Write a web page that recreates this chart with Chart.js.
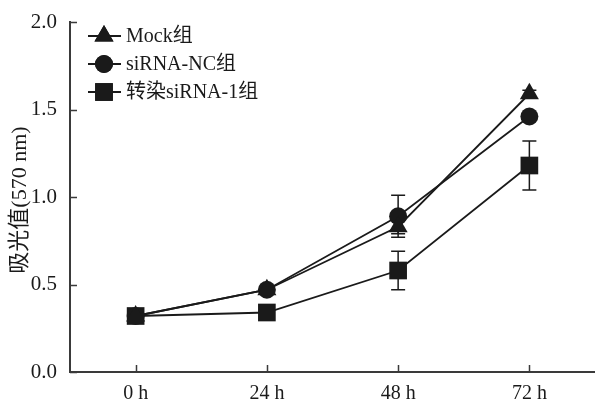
<!DOCTYPE html>
<html>
<head>
<meta charset="utf-8">
<script src="https://cdn.jsdelivr.net/npm/chart.js@4/dist/chart.umd.min.js"></script>
<style>
  html, body { margin: 0; padding: 0; background: #fff; }
  #wrap { width: 595px; height: 401px; position: relative; }
</style>
</head>
<body>
<div id="wrap"><canvas id="chart"></canvas></div>
<script>
// Data
const timeLabels = ['0 h', '24 h', '48 h', '72 h'];
const mockValues = [0.32, 0.47, 0.83, 1.59];
const mockErr = [0.01, 0.01, 0.04, 0.02];
const ncValues = [0.32, 0.47, 0.89, 1.46];
const ncErr = [0.01, 0.01, 0.12, 0.02];
const si1Values = [0.32, 0.34, 0.58, 1.18];
const si1Err = [0.02, 0.01, 0.11, 0.14];
const seriesNames = ['Mock组', 'siRNA-NC组', '转染siRNA-1组'];
const yTicks = [0, 0.5, 1.0, 1.5, 2.0];

const INK = '#1a1a1a';
const AXIS = '#3a3a3a';
const SERIF = '"Liberation Serif", "Times New Roman", "Noto Sans CJK SC", serif';

function makeSet(name, values, err, style, radius) {
    return {
        label: name,
        data: values,
        errors: err,
        borderColor: INK,
        backgroundColor: INK,
        borderWidth: 1.8,
        pointStyle: style,
        pointRadius: radius,
        pointHoverRadius: radius,
        pointBorderWidth: 0,
        tension: 0,
        clip: false
    };
}

// Error bars, drawn behind the markers
const errorBars = {
    id: 'errorBars',
    beforeDatasetsDraw(chart) {
        const ctx = chart.ctx;
        const y = chart.scales.y;
        ctx.save();
        ctx.strokeStyle = INK;
        ctx.lineWidth = 1.5;
        chart.data.datasets.forEach((ds, i) => {
            const meta = chart.getDatasetMeta(i);
            meta.data.forEach((pt, j) => {
                const e = ds.errors[j];
                if (!e) return;
                const top = y.getPixelForValue(ds.data[j] + e);
                const bot = y.getPixelForValue(ds.data[j] - e);
                ctx.beginPath();
                ctx.moveTo(pt.x, top); ctx.lineTo(pt.x, bot);
                ctx.moveTo(pt.x - 7, top); ctx.lineTo(pt.x + 7, top);
                ctx.moveTo(pt.x - 7, bot); ctx.lineTo(pt.x + 7, bot);
                ctx.stroke();
            });
        });
        ctx.restore();
    }
};

// Inward tick marks, legend and y title
const decorations = {
    id: 'decorations',
    afterDraw(chart) {
        const ctx = chart.ctx;
        const area = chart.chartArea;
        const xs = chart.scales.x;
        const ys = chart.scales.y;
        ctx.save();
        ctx.strokeStyle = AXIS;
        ctx.lineWidth = 1.5;
        ctx.beginPath();
        yTicks.forEach(v => {
            const py = Math.round(ys.getPixelForValue(v)) + 0.5;
            ctx.moveTo(area.left, py); ctx.lineTo(area.left + 7, py);
        });
        timeLabels.forEach((t, i) => {
            const px = Math.round(xs.getPixelForValue(i)) + 0.5;
            ctx.moveTo(px, area.bottom); ctx.lineTo(px, area.bottom - 7);
        });
        ctx.stroke();

        // legend
        const rows = [36, 64, 92];
        chart.data.datasets.forEach((ds, i) => {
            const ly = rows[i];
            ctx.strokeStyle = INK;
            ctx.lineWidth = 1.8;
            ctx.beginPath();
            ctx.moveTo(88, ly); ctx.lineTo(121, ly);
            ctx.stroke();
            Chart.helpers.drawPoint(ctx, {
                pointStyle: ds.pointStyle,
                radius: ds.pointRadius,
                rotation: 0,
                borderWidth: 0
            }, 104, ly);
            ctx.fillStyle = INK;
            ctx.fill();
            ctx.font = '20px ' + SERIF;
            ctx.textAlign = 'left';
            ctx.textBaseline = 'middle';
            ctx.fillText(ds.label, 126, ly + 1);
        });

        // y axis title
        ctx.translate(20, 200);
        ctx.rotate(-Math.PI / 2);
        ctx.fillStyle = INK;
        ctx.font = '22px ' + SERIF;
        ctx.textAlign = 'center';
        ctx.textBaseline = 'middle';
        ctx.fillText('吸光值(570 nm)', 0, 0);
        ctx.restore();
    }
};

new Chart(document.getElementById('chart'), {
    type: 'line',
    data: {
        labels: timeLabels,
        datasets: [
            makeSet(seriesNames[0], mockValues, mockErr, 'triangle', 11),
            makeSet(seriesNames[1], ncValues, ncErr, 'circle', 9),
            makeSet(seriesNames[2], si1Values, si1Err, 'rect', 12.5)
        ]
    },
    options: {
        responsive: true,
        maintainAspectRatio: false,
        animation: false,
        layout: { autoPadding: false, padding: { top: 22, right: 0, left: 0, bottom: 0 } },
        plugins: {
            legend: { display: false },
            tooltip: { enabled: false }
        },
        scales: {
            x: {
                type: 'category',
                offset: true,
                grid: { display: false },
                border: { display: true, color: AXIS, width: 2 },
                ticks: {
                    color: INK,
                    font: { family: SERIF, size: 20 },
                    padding: 2
                },
                afterFit(scale) {
                    scale.height = 29;
                    scale.paddingLeft = 0;
                    scale.paddingRight = 0;
                }
            },
            y: {
                min: 0,
                max: 2,
                grid: { display: false },
                border: { display: true, color: AXIS, width: 2 },
                ticks: {
                    stepSize: 0.5,
                    color: INK,
                    font: { family: SERIF, size: 21 },
                    padding: 5,
                    callback: v => v.toFixed(1)
                },
                afterFit(scale) {
                    scale.width = 70;
                    scale.paddingTop = 0;
                    scale.paddingBottom = 0;
                }
            }
        }
    },
    plugins: [errorBars, decorations]
});
</script>
</body>
</html>
